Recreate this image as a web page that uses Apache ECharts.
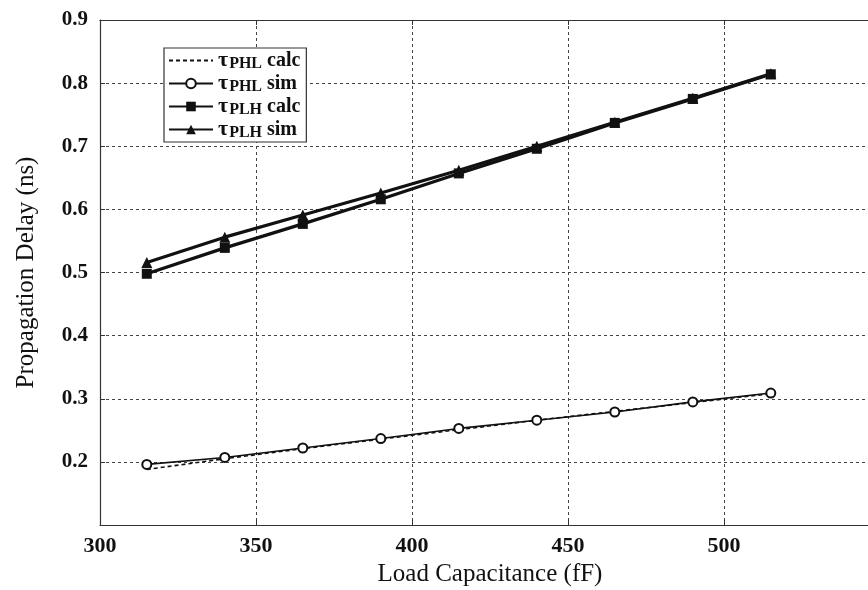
<!DOCTYPE html>
<html>
<head>
<meta charset="utf-8">
<script src="https://cdn.jsdelivr.net/npm/echarts@6/dist/echarts.min.js"></script>
<style>
html,body{margin:0;padding:0;background:#fff;}
#chart{width:868px;height:590px;}
</style>
</head>
<body>
<div id="chart"></div>
<script>
var loadCap = [315, 340, 365, 390, 415, 440, 465, 490, 515];
var phlCalc = [0.188, 0.205, 0.221, 0.236, 0.251, 0.266, 0.280, 0.294, 0.308];
var phlSim  = [0.196, 0.207, 0.222, 0.237, 0.253, 0.266, 0.279, 0.295, 0.309];
var plhCalc = [0.498, 0.539, 0.577, 0.616, 0.657, 0.696, 0.737, 0.775, 0.814];
var plhSim  = [0.516, 0.556, 0.591, 0.626, 0.662, 0.700, 0.738, 0.776, 0.815];
var seriesNames = ['PHL calc', 'PHL sim', 'PLH calc', 'PLH sim'];

function pairs(ys){ return loadCap.map(function(x,i){ return [x, ys[i]]; }); }

var serif = '"Liberation Serif","DejaVu Serif",serif';
var chart = echarts.init(document.getElementById('chart'));
chart.setOption({
  animation: false,
  backgroundColor: '#fff',
  grid: { left: 100, top: 20, right: -12, bottom: 65, outerBoundsMode: 'none', containLabel: false },
  xAxis: [{
    type: 'value', min: 300, max: 550, interval: 50,
    name: 'Load Capacitance (fF)', nameLocation: 'middle', nameGap: 37,
    nameTextStyle: { fontFamily: serif, fontSize: 25, color: '#111' },
    axisLine: { show: true, onZero: false, lineStyle: { color: '#333', width: 1.2 } },
    axisTick: { show: true, inside: true, length: 5, lineStyle: { color: '#333' } },
    axisLabel: { fontFamily: serif, fontWeight: 'bold', fontSize: 22, color: '#111', margin: 10, showMaxLabel: false },
    splitLine: { show: true, lineStyle: { type: [3, 3], color: '#444', width: 1 } }
  }, {
    type: 'value', min: 300, max: 550, interval: 50, position: 'top',
    axisLine: { show: true, onZero: false, lineStyle: { color: '#333', width: 1.2 } },
    axisTick: { show: true, inside: true, length: 5, lineStyle: { color: '#333' } },
    axisLabel: { show: false }, splitLine: { show: false }
  }],
  yAxis: {
    type: 'value', min: 0.1, max: 0.9, interval: 0.1,
    name: 'Propagation Delay (ns)', nameLocation: 'middle', nameGap: 61,
    nameTextStyle: { fontFamily: serif, fontSize: 25, color: '#111' },
    axisLine: { show: true, onZero: false, lineStyle: { color: '#333', width: 1.2 } },
    axisTick: { show: true, inside: true, length: 5, lineStyle: { color: '#333' } },
    axisLabel: { fontFamily: serif, fontWeight: 'bold', fontSize: 21, color: '#111', margin: 12, showMinLabel: false,
      formatter: function(v){ return v.toFixed(1); } },
    splitLine: { show: true, lineStyle: { type: [3, 3], color: '#444', width: 1 } }
  },
  legend: {
    left: 164, top: 48, orient: 'vertical',
    data: [
      { name: seriesNames[0], itemStyle: { opacity: 0 } },
      seriesNames[1], seriesNames[2], seriesNames[3]
    ],
    backgroundColor: '#fff', borderColor: '#333', borderWidth: 1.2,
    padding: [1, 6, 1, 4], itemGap: 0, itemWidth: 44, itemHeight: 12,
    formatter: function(name){
      var p = name.split(' ');
      return '{t|τ}{s|' + p[0] + '}{c|' + p[1] + '}';
    },
    textStyle: {
      fontFamily: serif, color: '#111', fontWeight: 'bold', lineHeight: 23,
      rich: {
        t: { fontFamily: serif, fontSize: 22, fontWeight: 'bold', color: '#111', lineHeight: 23, verticalAlign: 'top', padding: [0, 1, 0, 0] },
        s: { fontFamily: serif, fontSize: 16, fontWeight: 'bold', color: '#111', lineHeight: 23, verticalAlign: 'middle', padding: [6, 5, 0, 0] },
        c: { fontFamily: serif, fontSize: 20, fontWeight: 'bold', color: '#111', lineHeight: 23, verticalAlign: 'middle' }
      }
    }
  },
  series: [
    { name: 'PHL calc', type: 'line', data: pairs(phlCalc), symbol: 'none',
      lineStyle: { color: '#111', width: 1.6, type: [4, 3] }, itemStyle: { color: '#111' } },
    { name: 'PHL sim', type: 'line', data: pairs(phlSim), symbol: 'emptyCircle', symbolSize: 9,
      lineStyle: { color: '#111', width: 1.6 }, itemStyle: { color: '#111', borderWidth: 1.5, borderColor: '#111' } },
    { name: 'PLH calc', type: 'line', data: pairs(plhCalc), symbol: 'rect', symbolSize: 10,
      lineStyle: { color: '#111', width: 3.2 }, itemStyle: { color: '#111' } },
    { name: 'PLH sim', type: 'line', data: pairs(plhSim), symbol: 'triangle', symbolSize: 11,
      lineStyle: { color: '#111', width: 3.2 }, itemStyle: { color: '#111' } }
  ]
});
</script>
</body>
</html>
